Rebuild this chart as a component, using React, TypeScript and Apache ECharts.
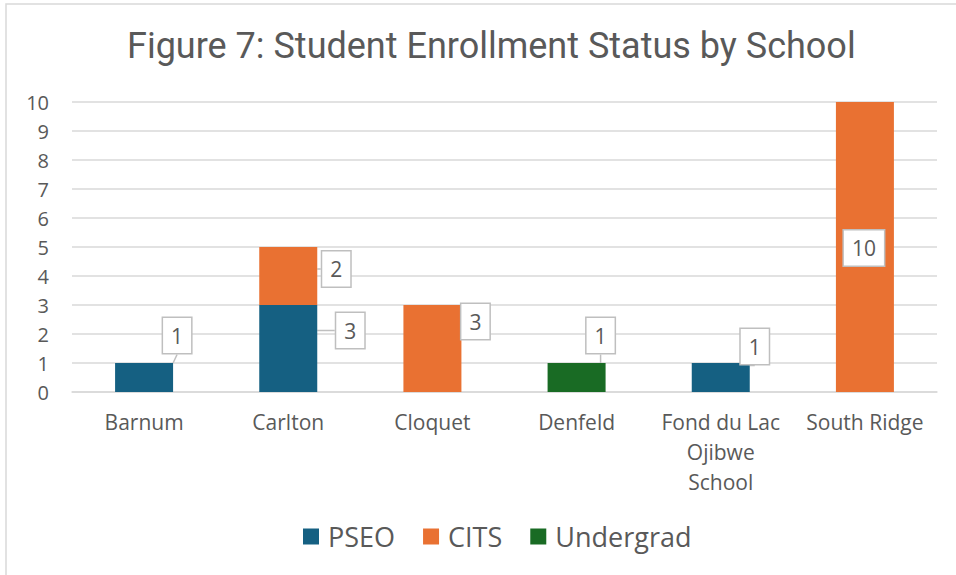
import React, { useEffect, useRef } from "react";
import * as echarts from "echarts";

const schools = ["Barnum", "Carlton", "Cloquet", "Denfeld", "Fond du Lac Ojibwe School", "South Ridge"];
const xTickLabels = ["Barnum", "Carlton", "Cloquet", "Denfeld", "Fond du Lac\nOjibwe\nSchool", "South Ridge"];
const pseo = [1, 3, null, null, 1, null];
const cits = [null, 2, 3, null, null, 10];
const undergrad = [null, null, null, 1, null, null];
const yTicks = [0, 1, 2, 3, 4, 5, 6, 7, 8, 9, 10];

const TEXT = "#595959";
const FONT = "Open Sans";

// callout offsets (label centre relative to bar segment centre), per series index
const calloutOffsets: Record<number, Record<number, [number, number]>> = {
  0: { 0: [33, -42], 1: [62, -18], 4: [34, -31] },
  1: { 1: [48, -7], 2: [43, -27], 5: [-1, 1] },
  2: { 3: [24, -42] },
};

export default function App() {
  const ref = useRef<HTMLDivElement>(null);
  useEffect(() => {
    if (!ref.current) return;
    const chart = echarts.init(ref.current, undefined, { renderer: "svg" });
    const labelStyle = {
      show: true,
      position: "inside",
      fontFamily: FONT,
      fontSize: 21,
      color: TEXT,
      backgroundColor: "#ffffff",
      borderColor: "#bfbfbf",
      borderWidth: 1.5,
      padding: [8, 8, 6, 8],
    };
    const mk = (name: string, data: (number | null)[], color: string, si: number) => ({
      name,
      type: "bar",
      stack: "total",
      barWidth: 58,
      data,
      itemStyle: { color },
      label: labelStyle,
      labelLine: { show: true, lineStyle: { color: "#bfbfbf", width: 1.5 } },
      labelLayout: (p: any) => {
        const off = calloutOffsets[si]?.[p.dataIndex] || [0, 0];
        const r = p.rect;
        return {
          x: r.x + r.width / 2 + off[0],
          y: r.y + r.height / 2 + off[1],
          align: "center",
          verticalAlign: "middle",
        };
      },
    });
    chart.setOption({
      animation: false,
      backgroundColor: "#ffffff",
      textStyle: { fontFamily: FONT },
      title: {
        text: "Figure 7: Student Enrollment Status by School",
        left: 122,
        top: 23,
        textStyle: { fontFamily: "Roboto", fontSize: 36, fontWeight: "normal", color: TEXT },
      },
      graphic: [
        {
          type: "rect",
          shape: { x: 6, y: 4, width: 1000, height: 700 },
          style: { fill: "none", stroke: "#d9d9d9", lineWidth: 1.5 },
          silent: true,
          z: -1,
        },
      ],
      legend: {
        top: 518,
        left: 298,
        itemWidth: 16,
        itemHeight: 16,
        itemGap: 28,
        icon: "rect",
        textStyle: { fontFamily: FONT, fontSize: 27, color: TEXT, padding: [0, 0, 0, 4] },
        data: ["PSEO", "CITS", "Undergrad"],
      },
      grid: { left: 72, right: 19, top: 102, bottom: 183, containLabel: false },
      xAxis: {
        type: "category",
        data: schools,
        axisLine: { lineStyle: { color: "#d9d9d9", width: 1.5 } },
        axisTick: { show: false },
        axisLabel: {
          fontFamily: FONT,
          fontSize: 21,
          color: TEXT,
          margin: 15,
          lineHeight: 30,
          interval: 0,
          formatter: (_v: string, i: number) => xTickLabels[i],
        },
      },
      yAxis: {
        type: "value",
        min: yTicks[0],
        max: yTicks[yTicks.length - 1],
        interval: 1,
        axisLine: { show: false },
        axisTick: { show: false },
        splitLine: { lineStyle: { color: "#d9d9d9", width: 1.5 } },
        axisLabel: { fontFamily: FONT, fontSize: 20, color: TEXT, margin: 23 },
      },
      series: [
        mk("PSEO", pseo, "#156082", 0),
        mk("CITS", cits, "#E97132", 1),
        mk("Undergrad", undergrad, "#196B24", 2),
      ],
    });
    return () => chart.dispose();
  }, []);
  return (
    <div
      ref={ref}
      style={{ position: "fixed", left: 0, top: 0, width: 956, height: 575 }}
    />
  );
}
